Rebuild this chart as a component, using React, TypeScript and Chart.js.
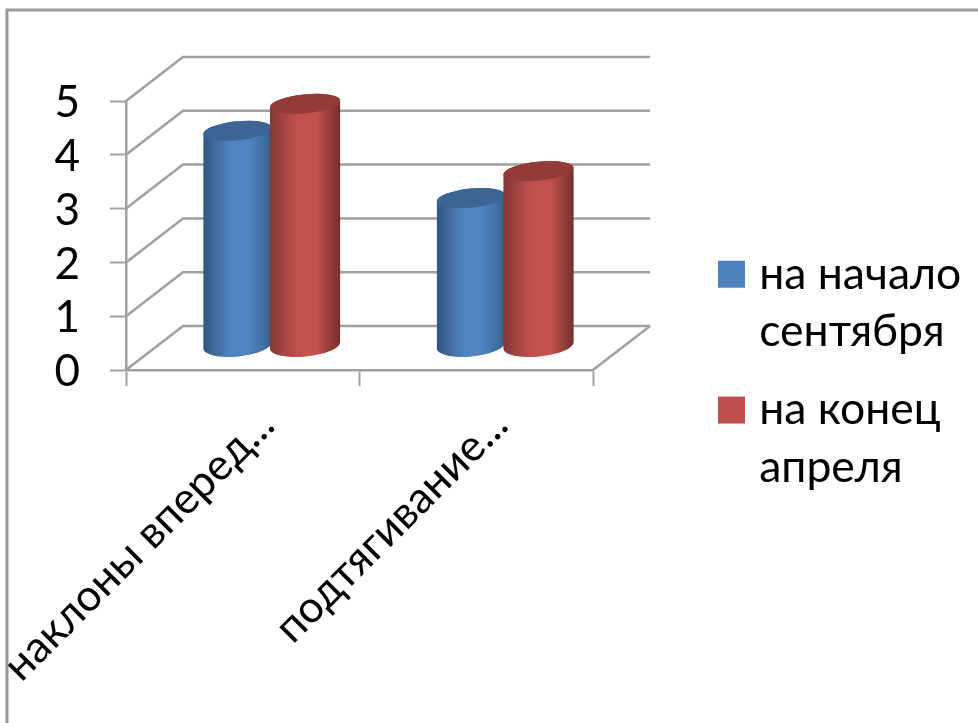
import React, { useEffect, useRef } from "react";
import { Chart, registerables } from "chart.js";

Chart.register(...registerables);

const categories = ["наклоны вперед...", "подтягивание..."];
const seriesStart = [4, 2.75];
const seriesEnd = [4.5, 3.25];
const legendStart = ["на начало", "сентября"];
const legendEnd = ["на конец", "апреля"];
const yTicksMax = 5;

const FONT = "Lato, 'Open Sans', sans-serif";
const GRID = "#a0a0a0";
const BACK_DX = 57;
const BACK_DY = -44;
const MID_DX = 29;
const MID_DY = -24;

const skins = [
  {
    top: "#3c6594",
    grow: 0,
    stops: [[0, "#2f557f"], [0.14, "#3d6898"], [0.4, "#4f83c2"], [0.66, "#4f83c2"], [0.88, "#41709f"], [1, "#355c88"]],
  },
  {
    top: "#943b39",
    grow: 1,
    stops: [[0, "#843634"], [0.14, "#9a403e"], [0.4, "#c2514e"], [0.66, "#c2514e"], [0.88, "#8f3c3a"], [1, "#752d2b"]],
  },
];

const wallsPlugin = {
  id: "walls",
  beforeDraw(chart: any) {
    const { ctx, width, height } = chart;
    ctx.save();
    ctx.strokeStyle = "#999999";
    ctx.lineWidth = 3;
    ctx.beginPath();
    ctx.moveTo(7, height);
    ctx.lineTo(7, 10);
    ctx.lineTo(width, 10);
    ctx.stroke();
    ctx.restore();
  },
  beforeDatasetsDraw(chart: any) {
    const { ctx, chartArea, scales } = chart;
    const { left, right, bottom } = chartArea;
    ctx.save();
    ctx.strokeStyle = GRID;
    ctx.lineWidth = 2.5;
    for (const t of scales.y.ticks) {
      const y = scales.y.getPixelForValue(t.value);
      ctx.beginPath();
      ctx.moveTo(left, y);
      ctx.lineTo(left + BACK_DX, y + BACK_DY);
      ctx.lineTo(right + BACK_DX, y + BACK_DY);
      ctx.stroke();
    }
    ctx.beginPath();
    ctx.moveTo(right, bottom);
    ctx.lineTo(right + BACK_DX, bottom + BACK_DY);
    ctx.stroke();
    ctx.restore();

    ctx.save();
    for (let i = 0; i < chart.data.datasets.length; i++) {
      const skin = skins[i];
      for (const bar of chart.getDatasetMeta(i).data) {
        const p = bar.getProps(["x", "y", "base", "width"], true);
        const cx = p.x + MID_DX - skin.grow;
        const rx = p.width / 2 + skin.grow;
        const ry = 9.5;
        const rot = -0.1;
        const topY = p.y + MID_DY;
        const baseY = p.base + MID_DY;
        const g = ctx.createLinearGradient(cx - rx, 0, cx + rx, 0);
        for (const [o, c] of skin.stops) g.addColorStop(o as number, c as string);
        ctx.fillStyle = g;
        ctx.beginPath();
        ctx.ellipse(cx, baseY, rx, ry + 1.5, rot, 0, Math.PI, false);
        ctx.ellipse(cx, topY, rx, ry, rot, Math.PI, 0, false);
        ctx.closePath();
        ctx.fill();
        ctx.fillStyle = skin.top;
        ctx.beginPath();
        ctx.ellipse(cx, topY, rx, ry, rot, 0, Math.PI * 2);
        ctx.fill();
      }
    }
    ctx.restore();
  },
  beforeDatasetDraw() {
    return false;
  },
  afterLayout(chart: any) {
    const l = chart.legend;
    l.left = 705;
    l.right = 978;
    l.top = 231;
    l.bottom = 530;
  },
};

export default function App() {
  const ref = useRef<HTMLCanvasElement>(null);
  useEffect(() => {
    const chart = new Chart(ref.current as HTMLCanvasElement, {
      type: "bar",
      plugins: [wallsPlugin],
      data: {
        labels: categories,
        datasets: [
          { label: legendStart.join(" "), data: seriesStart, backgroundColor: "#4f81bd" },
          { label: legendEnd.join(" "), data: seriesEnd, backgroundColor: "#c0504d" },
        ],
      },
      options: {
        responsive: false,
        animation: false,
        events: [],
        layout: {
          autoPadding: false,
          padding: { left: 0, top: 101, right: 385, bottom: 0 },
        },
        datasets: { bar: { categoryPercentage: 0.587, barPercentage: 1 } },
        scales: {
          x: {
            type: "category",
            offset: true,
            afterFit(s: any) {
              s.height = 353;
              s.paddingLeft = 0;
              s.paddingRight = 0;
            },
            border: { display: true, color: GRID, width: 2.5 },
            grid: { offset: true, drawOnChartArea: false, drawTicks: true, tickLength: 16, tickColor: GRID, tickWidth: 2 },
            ticks: {
              autoSkip: false,
              maxRotation: 45,
              minRotation: 45,
              labelOffset: 24,
              padding: 13,
              color: "#000",
              font: { family: FONT, size: 43.7 },
            },
          },
          y: {
            min: 0,
            max: yTicksMax,
            afterFit(s: any) {
              s.width = 126;
            },
            border: { display: true, color: GRID, width: 2.5 },
            grid: { drawOnChartArea: false, drawTicks: true, tickLength: 16, tickColor: GRID, tickWidth: 2 },
            ticks: { stepSize: 1, autoSkip: false, padding: 30, labelOffset: 2, color: "#000", font: { family: FONT, size: 44 } },
          },
        },
        plugins: {
          title: { display: false },
          tooltip: { enabled: false },
          legend: {
            position: "chartArea",
            align: "start",
            labels: {
              boxWidth: 11,
              boxHeight: 11,
              padding: 21,
              color: "#000",
              font: { family: FONT, size: 44.5, lineHeight: 1.29 },
              generateLabels() {
                return [
                  { text: legendStart, fillStyle: "#4f81bd", strokeStyle: "#4f81bd", lineWidth: 16, datasetIndex: 0 },
                  { text: legendEnd, fillStyle: "#c0504d", strokeStyle: "#c0504d", lineWidth: 16, datasetIndex: 1 },
                ] as any;
              },
            },
          },
        },
      } as any,
    });
    return () => chart.destroy();
  }, []);
  return (
    <div style={{ position: "absolute", left: 0, top: 0, width: 978, height: 723, overflow: "hidden", background: "#fff" }}>
      <canvas ref={ref} width={978} height={723} style={{ display: "block", filter: "blur(0.5px)" }} />
    </div>
  );
}
